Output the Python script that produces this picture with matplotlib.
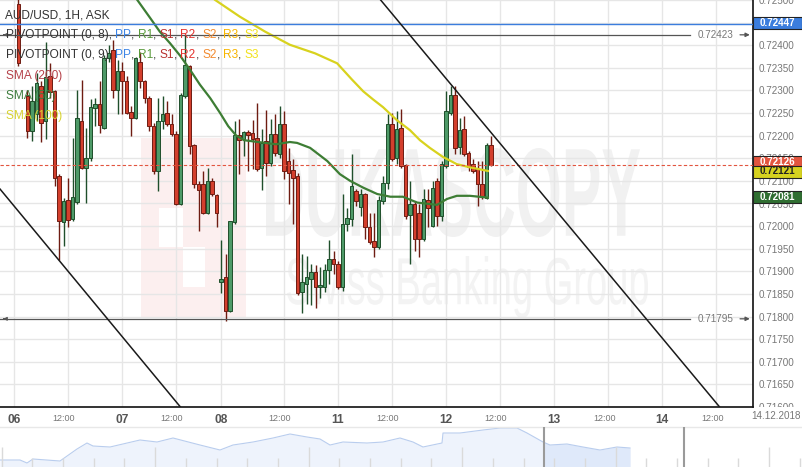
import numpy as np
import matplotlib.pyplot as plt
import matplotlib.transforms as mtransforms
from matplotlib.patches import Rectangle, PathPatch
from matplotlib.textpath import TextPath
from matplotlib.font_manager import FontProperties

plt.rcParams['font.family'] = ['Liberation Sans', 'DejaVu Sans']

W, H = 803, 467

# AUD/USD 1H ask candles, hour index on the chart (0 = 06.12 00:00, weekend removed)
hours = [1, 3, 4, 5, 6, 7, 8, 9, 10, 11, 12, 13, 14, 15, 16, 17, 18, 19, 20,
         21, 22, 23, 24, 25, 26, 27, 28, 29, 30, 31, 32, 33, 34, 35, 36, 37, 38,
         39, 40, 41, 42, 43, 44, 45, 46, 47, 48, 49, 50, 51, 52, 53, 54, 55, 56,
         57, 58, 59, 60, 61, 62, 63, 64, 65, 66, 67, 68, 69, 70, 71, 72, 73, 74,
         75, 76, 77, 78, 79, 80, 81, 82, 83, 84, 85, 86, 87, 88, 89, 90, 91, 92,
         93, 94, 95, 96, 97, 98, 99, 100, 101, 102, 103, 104, 105, 106]
opens = [0.72492, 0.72287, 0.72210, 0.72247, 0.72309, 0.72232, 0.72331, 0.72298,
         0.72111, 0.72008, 0.72058, 0.72016, 0.72054, 0.72232, 0.72129, 0.72151,
         0.72261, 0.72269, 0.72217, 0.72371, 0.72390, 0.72302, 0.72342, 0.72320,
         0.72252, 0.72239, 0.72364, 0.72320, 0.72283, 0.72221, 0.72122, 0.72232,
         0.72250, 0.72225, 0.72203, 0.72049, 0.72287, 0.72353, 0.72179, 0.72093,
         0.72093, 0.72030, 0.72100, 0.72069, 0.71876, 0.71887, 0.71812, 0.72008,
         0.72201, 0.72192, 0.72208, 0.72206, 0.72195, 0.72129, 0.72188, 0.72140,
         0.72203, 0.72159, 0.72225, 0.72144, 0.72124, 0.72111, 0.71854, 0.71871,
         0.71884, 0.71898, 0.71865, 0.71865, 0.71902, 0.71928, 0.71917, 0.71865,
         0.72005, 0.72016, 0.72078, 0.72043, 0.72071, 0.71999, 0.71968, 0.71953,
         0.72056, 0.72096, 0.72225, 0.72151, 0.72217, 0.72135, 0.72025, 0.72049,
         0.72030, 0.71972, 0.72058, 0.72001, 0.72100, 0.72023, 0.72133, 0.72250,
         0.72291, 0.72175, 0.72214, 0.72162, 0.72137, 0.72126, 0.72093, 0.72063,
         0.72179]
highs = [0.72529, 0.72302, 0.72309, 0.72338, 0.72320, 0.72408, 0.72360, 0.72302,
         0.72115, 0.72063, 0.72107, 0.72195, 0.72302, 0.72322, 0.72217, 0.72280,
         0.72283, 0.72320, 0.72379, 0.72401, 0.72412, 0.72368, 0.72364, 0.72331,
         0.72265, 0.72375, 0.72386, 0.72324, 0.72287, 0.72228, 0.72283, 0.72287,
         0.72276, 0.72247, 0.72210, 0.72294, 0.72423, 0.72357, 0.72181, 0.72100,
         0.72122, 0.72129, 0.72107, 0.72071, 0.71970, 0.71939, 0.72012, 0.72232,
         0.72236, 0.72210, 0.72212, 0.72234, 0.72272, 0.72214, 0.72256, 0.72236,
         0.72247, 0.72265, 0.72254, 0.72173, 0.72148, 0.72118, 0.71939, 0.71935,
         0.71917, 0.71913, 0.71909, 0.71917, 0.71970, 0.71946, 0.71922, 0.72071,
         0.72041, 0.72159, 0.72082, 0.72082, 0.72074, 0.72030, 0.72030, 0.72067,
         0.72111, 0.72247, 0.72250, 0.72254, 0.72258, 0.72137, 0.72100, 0.72056,
         0.72049, 0.72082, 0.72082, 0.72100, 0.72107, 0.72144, 0.72298, 0.72309,
         0.72309, 0.72239, 0.72243, 0.72166, 0.72148, 0.72144, 0.72144, 0.72184,
         0.72199]
lows = [0.72355, 0.72195, 0.72188, 0.72232, 0.72186, 0.72192, 0.72283, 0.72089,
        0.71924, 0.71957, 0.71997, 0.72012, 0.72049, 0.72126, 0.72052, 0.72144,
        0.72221, 0.72206, 0.72214, 0.72364, 0.72283, 0.72247, 0.72247, 0.72247,
        0.72199, 0.72236, 0.72305, 0.72272, 0.72210, 0.72115, 0.72078, 0.72214,
        0.72221, 0.72199, 0.72047, 0.72047, 0.72283, 0.72159, 0.72085, 0.71990,
        0.72027, 0.72027, 0.72067, 0.71997, 0.71851, 0.71790, 0.71810, 0.72005,
        0.72115, 0.72155, 0.72122, 0.72126, 0.72122, 0.72080, 0.72111, 0.72133,
        0.72155, 0.72151, 0.72104, 0.72049, 0.72005, 0.71847, 0.71807, 0.71827,
        0.71825, 0.71818, 0.71840, 0.71854, 0.71873, 0.71895, 0.71862, 0.71856,
        0.71990, 0.72001, 0.72045, 0.72023, 0.71972, 0.71961, 0.71931, 0.71950,
        0.72049, 0.72082, 0.72144, 0.72137, 0.72129, 0.72016, 0.71917, 0.71946,
        0.71931, 0.71968, 0.71997, 0.71997, 0.72001, 0.72012, 0.72129, 0.72245,
        0.72159, 0.72159, 0.72155, 0.72122, 0.72118, 0.72045, 0.72060, 0.72060,
        0.72133]
closes = [0.72360, 0.72210, 0.72276, 0.72316, 0.72228, 0.72329, 0.72296, 0.72107,
          0.72012, 0.72056, 0.72014, 0.72065, 0.72239, 0.72129, 0.72151, 0.72263,
          0.72269, 0.72223, 0.72371, 0.72382, 0.72302, 0.72342, 0.72320, 0.72250,
          0.72239, 0.72371, 0.72320, 0.72283, 0.72221, 0.72122, 0.72232, 0.72247,
          0.72225, 0.72203, 0.72049, 0.72289, 0.72357, 0.72177, 0.72093, 0.72080,
          0.72030, 0.72100, 0.72071, 0.72030, 0.71884, 0.71812, 0.72012, 0.72201,
          0.72190, 0.72208, 0.72201, 0.72192, 0.72126, 0.72184, 0.72140, 0.72203,
          0.72162, 0.72225, 0.72122, 0.72118, 0.72107, 0.71851, 0.71876, 0.71887,
          0.71898, 0.71865, 0.71869, 0.71902, 0.71928, 0.71917, 0.71865, 0.72005,
          0.72019, 0.72089, 0.72056, 0.72071, 0.71997, 0.71964, 0.71953, 0.72058,
          0.72096, 0.72225, 0.72148, 0.72214, 0.72133, 0.72023, 0.72049, 0.71972,
          0.71972, 0.72060, 0.72041, 0.72085, 0.72023, 0.72137, 0.72254, 0.72291,
          0.72173, 0.72212, 0.72159, 0.72131, 0.72122, 0.72093, 0.72065, 0.72179,
          0.72135]

# moving averages (hour index, price)
sma50_h = [26.9, 30.2, 32.4, 34.7, 36.9, 39.1, 41.3, 43.6, 45.8, 47.6, 49.3, 51.1,
           54.2, 58.2, 61.3, 62.9, 65.8, 69.6, 72.4, 74.7, 77.6, 80.7, 83.6, 86.4,
           89.6, 94.0, 96.2, 98.4, 101.3, 105.3]
sma50_v = [0.72507, 0.72461, 0.72430, 0.72404, 0.72377, 0.72346, 0.72313, 0.72283,
           0.72250, 0.72221, 0.72201, 0.72190, 0.72186, 0.72181, 0.72186, 0.72184,
           0.72173, 0.72144, 0.72115, 0.72100, 0.72085, 0.72071, 0.72065, 0.72065,
           0.72052, 0.72047, 0.72060, 0.72067, 0.72067, 0.72063]
sma100_h = [44.7, 50.2, 55.8, 61.3, 66.9, 71.8, 75.1, 77.6, 79.8, 82.0, 85.1, 88.0,
            90.2, 92.4, 95.3, 98.4, 101.3, 105.3]
sma100_v = [0.72500, 0.72463, 0.72430, 0.72401, 0.72382, 0.72360, 0.72324, 0.72298,
            0.72280, 0.72263, 0.72234, 0.72212, 0.72190, 0.72173, 0.72153, 0.72137,
            0.72130, 0.72122]

pivot_pp = 0.72447
level_hi = 0.72423
level_lo = 0.71795
last_ask = 0.72126
sma100_last = 0.72121
sma50_last = 0.72081

# channel anchor points (hour, price)
chan_top = [(81.8, 0.72496), (156.7, 0.71601)]
chan_bot = [(-3.11, 0.72082), (36.9, 0.71601)]

x_ticks = [0, 12, 24, 36, 46, 60, 72, 84, 96, 108, 120, 132, 144, 156]
x_labels = ['06', '12:00', '07', '12:00', '08', '12:00', '11', '12:00',
            '12', '12:00', '13', '12:00', '14', '12:00']
y_ticks = [round(0.7160 + 0.0005 * i, 4) for i in range(19)]

# navigator overview series
nav_x = [0, 20, 27, 33, 60, 77, 87, 93, 110, 140, 157, 173, 200, 220, 233, 253,
         273, 290, 307, 320, 330, 343, 367, 383, 400, 413, 423, 442, 443, 460,
         483, 500, 517, 527, 543, 550, 567, 583, 600, 617, 630]
nav_h = [7, 7, 4, 8, 6, 18, 24, 21, 20, 27, 25, 29, 22, 17, 22, 25, 29, 33, 30,
         28, 22, 25, 24, 25, 29, 25, 20, 24, 34, 34, 37, 39, 39, 34, 25, 22, 23,
         20, 17, 20, 19]

fig = plt.figure(figsize=(W / 100, H / 100), dpi=100)
ax = fig.add_axes([0, 60 / H, 753 / W, 407 / H])
ax.set_xlim(-3.11, 164.2)
ax.set_ylim(0.71601, 0.72496)

px = mtransforms.Affine2D().scale(1 / W, 1 / H) + fig.transFigure


def px_rect(x0, y0, x1, y1, color, target, z=0.4):
    r = Rectangle((x0, H - y1), x1 - x0, y1 - y0, transform=px, fc=color, ec='none', zorder=z)
    target.add_patch(r)


def px_word(s, x0, y0, x1, y1, color, weight):
    tp = TextPath((0, 0), s, size=100, prop=FontProperties(family='Liberation Sans', weight=weight))
    e = tp.get_extents()
    tr = (mtransforms.Affine2D().translate(-e.x0, -e.y0)
          .scale((x1 - x0) / e.width, (y1 - y0) / e.height)
          .translate(x0, H - y1)) + px
    ax.add_patch(PathPatch(tp, transform=tr, fc=color, ec='none', zorder=0.5))


# watermark
px_rect(141, 138, 246, 318, '#fcefef', ax)
px_rect(159, 208, 183, 247, 'white', ax, 0.45)
px_rect(183, 247, 205, 287, 'white', ax, 0.45)
px_word('DUKASCOPY', 266, 148, 640, 237, '#f1f1f1', 'bold')
px_word('Swiss Banking Group', 287, 256, 648, 318, '#f3f3f3', 'normal')

# grid and axes
ax.set_yticks(y_ticks)
ax.yaxis.set_major_formatter(plt.FormatStrFormatter('%.5f'))
ax.yaxis.tick_right()
ax.tick_params(axis='y', length=0, pad=4, labelsize=7.1, labelcolor='#777')
ax.set_xticks(x_ticks)
ax.set_xticklabels(x_labels)
ax.tick_params(axis='x', length=0, pad=5)
shift = mtransforms.ScaledTranslation(-4 / 100, 0, fig.dpi_scale_trans)
for lbl in ax.get_xticklabels():
    if ':' in lbl.get_text():
        lbl.set_fontsize(6.5)
        lbl.set_color('#777')
        lbl.set_transform(lbl.get_transform() + shift)
    else:
        lbl.set_fontsize(8.6)
        lbl.set_fontweight('bold')
        lbl.set_color('#555')
clip = mtransforms.TransformedBbox(mtransforms.Bbox([[0, 60 / H], [1, 1]]), fig.transFigure)
for lbl in ax.get_yticklabels():
    lbl.set_clip_box(clip)
    lbl.set_clip_on(True)
ax.grid(True, color='#e6e6e6', lw=1, zorder=1)
ax.set_axisbelow(True)
for s in ['top', 'left']:
    ax.spines[s].set_visible(False)
for s in ['right', 'bottom']:
    ax.spines[s].set_color('#111')
    ax.spines[s].set_linewidth(1.2)

# candles
o = np.array(opens)
c = np.array(closes)
hi = np.array(highs)
lo = np.array(lows)
up = c >= o
fill = np.where(up, '#4e9a68', '#d33f2d')
edge = np.where(up, '#1f4f2b', '#6e1c12')
ax.vlines(hours, lo, hi, colors=edge, lw=1, zorder=3)
ax.bar(hours, np.maximum(np.abs(c - o), 0.00001), bottom=np.minimum(o, c), width=0.72,
       color=fill, edgecolor=edge, linewidth=0.7, zorder=4)

# moving averages
ax.plot(sma50_h, sma50_v, color='#3d7d34', lw=1.6, zorder=5)
ax.plot(sma100_h, sma100_v, color='#d8d21e', lw=1.6, zorder=5)

# horizontal levels
ax.axhline(pivot_pp, color='#3b7ddd', lw=1, zorder=5)
ax.axhline(closes[-1], color='#e2553f', lw=0.8, ls=(0, (3, 2)), zorder=5)
for lev in [level_hi, level_lo]:
    ax.plot([-3.11, 150.2], [lev, lev], color='#555', lw=0.9, zorder=5)
    ax.text(155.8, lev, f'{lev:.5f}', ha='center', va='center', fontsize=7.1, color='#777', zorder=6)
    ax.annotate('', xy=(164.1, lev), xytext=(160.7, lev), zorder=6,
                arrowprops=dict(arrowstyle='-|>', color='#555', lw=0.9, mutation_scale=6))
    ax.annotate('', xy=(-3.0, lev), xytext=(-1.6, lev), zorder=6,
                arrowprops=dict(arrowstyle='-|>', color='#555', lw=0.8, mutation_scale=5))

# channel
ax.axline(chan_top[0], chan_top[1], color='#1a1a1a', lw=1.1, zorder=6)
ax.axline(chan_bot[0], chan_bot[1], color='#1a1a1a', lw=1.1, zorder=6)

# price boxes on the axis
boxes = [(pivot_pp, 22.5, '#3b7ddd', 'white'),
         (last_ask, 162.0, '#e2553f', 'white'),
         (sma100_last, 171.5, '#d6d21f', '#222'),
         (sma50_last, 197.0, '#2f6e31', 'white')]
for val, yc, fc, tc in boxes:
    fig.add_artist(Rectangle((753, H - yc - 6), 49, 12, transform=px, fc=fc, ec='#222', lw=0.8))
    fig.text(777.5 / W, 1 - yc / H, f'{val:.5f}', ha='center', va='center', fontsize=7.1,
             color=tc, fontweight='bold')

fig.text(776 / W, 1 - 416 / H, '14.12.2018', ha='center', va='center', fontsize=7.1, color='#777')

# legend texts
rend = fig.canvas.get_renderer()


def parts_line(x, y, parts, size=8.6):
    for s, col in parts:
        t = fig.text(x / W, 1 - y / H, s, color=col, fontsize=size, ha='left', va='center')
        x += t.get_window_extent(renderer=rend).width


piv = [('PP', '#3d85e6'), (', ', '#333'), ('R1', '#5a9a3c'), (', ', '#333'), ('S1', '#b8312f'),
       (', ', '#333'), ('R2', '#e3332e'), (', ', '#333'), ('S2', '#f28b30'), (', ', '#333'),
       ('R3', '#f7b500'), (', ', '#333'), ('S3', '#f2e21f')]
parts_line(5, 15.7, [('AUD/USD, 1H, ASK', '#333')])
parts_line(6, 35, [('PIVOTPOINT (0, 8), ', '#333')] + piv)
parts_line(6, 55, [('PIVOTPOINT (0, 9), ', '#333')] + piv)
parts_line(6, 76, [('SMA (200)', '#b5424a')])
parts_line(6, 96, [('SMA (50)', '#3d7d3d')])
parts_line(6, 116, [('SMA (100)', '#d7d330')])

# navigator
nav = fig.add_axes([0, 0, 1, 42 / H])
nav.set_xlim(0, W)
nav.set_ylim(0, 42)
nav.axis('off')
nx = np.array(nav_x)
nh = np.array(nav_h)
nav.fill_between(nx, 0, nh, color='#eef3fc', lw=0)
nav.fill_between(nx, 0, nh, where=nx >= 543, color='#dfe9fa', lw=0)
nav.plot(nx, nh, color='#b9cdee', lw=0.8)
ticks_x = [1.7 + 30.7 * j for j in range(27)]
nav.vlines(ticks_x, 0, [20 if j % 5 == 0 else 9 for j in range(27)], color='#dadada', lw=1)
nav.axhline(40, color='#e8e8e8', lw=1)
nav.vlines([544, 684], 0, 40, color='#9a9a9a', lw=1.5)

fig.savefig('out.png', dpi=100)
